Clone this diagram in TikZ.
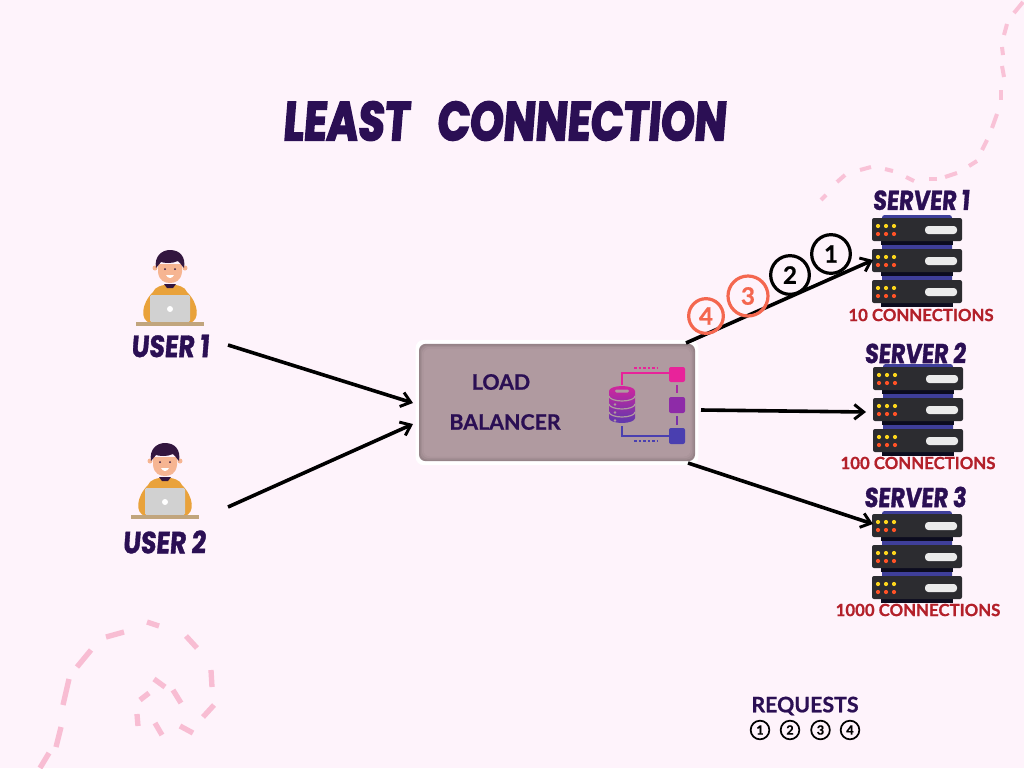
\documentclass[tikz,border=0pt]{standalone}
\usepackage{fontspec}
\setmainfont{Lato}[BoldFeatures={FakeBold=.8}]
\newfontfamily\inkfont[BoldFeatures={FakeBold=3,FakeSlant=0.08,FakeStretch=0.78}]{Poppins}
\newfontfamily\labfont[BoldFeatures={FakeBold=1.2,FakeSlant=0.08,FakeStretch=0.82}]{Poppins}
\usetikzlibrary{arrows.meta}
\definecolor{pagebg}{HTML}{FEF3FB}
\definecolor{ink}{HTML}{2B0F54}
\definecolor{conred}{HTML}{B3202A}
\definecolor{reqorange}{HTML}{F4674F}
\definecolor{dashpink}{HTML}{F8BDD3}
\definecolor{lbfill}{HTML}{B09AA0}
\definecolor{hood}{HTML}{E9A23B}
\definecolor{skin}{HTML}{F6B592}
\definecolor{hair}{HTML}{33163F}
\definecolor{rackblue}{HTML}{3F3F9A}
\definecolor{rackdark}{HTML}{2C2C30}
\definecolor{iconpink}{HTML}{E8239A}
\definecolor{iconpurple}{HTML}{8E2BA8}
\definecolor{iconblue}{HTML}{4A3FB0}
\tikzset{
  arr/.style={line width=2.7pt,-{Straight Barb[length=7pt,width=11pt,line width=2.2pt]}},
  title/.style={inner sep=0pt,text=ink,font=\inkfont\bfseries\fontsize{41}{41}\selectfont},
  who/.style={inner sep=0pt,text=ink,font=\labfont\bfseries\fontsize{#1}{#1}\selectfont},
  conn/.style={inner sep=0pt,text=conred,font=\bfseries\fontsize{12.6}{12.6}\selectfont},
  lbl/.style={inner sep=0pt,text=ink,font=\bfseries\fontsize{16}{16}\selectfont},
  req/.style={circle,draw=#1,text=#1,line width=2.4pt,inner sep=0pt,minimum size=29pt,font=\bfseries\fontsize{18}{18}\selectfont},
  key/.style={circle,draw=black,text=black,line width=1.3pt,inner sep=0pt,minimum size=14pt,font=\bfseries\fontsize{9.5}{9.5}\selectfont},
  dsh/.style={dashpink,line width=3pt}
}
\newcommand{\laptopuser}[2]{
\begin{scope}[shift={(#1,#2)}]
\fill[hood] (-20,53) .. controls (-30,50) and (-29,34) .. (-17,22) .. controls (-14,12) and (14,12) .. (17,22) .. controls (29,34) and (30,50) .. (20,53) -- cycle;
\fill[hair] (-6,14) -- (6,14) -- (3,18) -- (-3,18) -- cycle;
\fill[skin] (-15,-2) circle (2.5) (15,-2) circle (2.5);
\fill[skin] (-12,-6) -- (12,-6) -- (12,2) .. controls (11,11) and (5,13) .. (0,13) .. controls (-5,13) and (-11,11) .. (-12,2) -- cycle;
\fill[hair] (-14,-2) .. controls (-16,-14) and (-8,-20) .. (0,-20) .. controls (10,-20) and (16,-13) .. (14,-2) .. controls (11,-5) and (10,-8) .. (8,-9) .. controls (2,-6) and (-6,-7) .. (-9,-8) .. controls (-11,-6) and (-12,-4) .. (-14,-2) -- cycle;
\fill[hair] (-5,-1) circle (1) (5,-1) circle (1);
\fill[white] (-4,5) .. controls (-2,9) and (2,9) .. (4,5) -- cycle;
\fill[rounded corners=1pt,black!18!white] (-20,25) rectangle (20,52);
\fill[white] (0,39) circle (3);
\fill[hood!65!black!60!white] (-34,52) rectangle (34,56);
\end{scope}
}
\newcommand{\serverrack}[2]{
\begin{scope}[shift={(#1,#2)}]
\fill[rounded corners=2pt,rackblue] (-35,-44) rectangle (35,46);
\foreach \yy in {0,31,62}{
\fill[black!80!rackblue] (-36,-42+\yy+18) rectangle (36,-42+\yy+28);
\fill[rounded corners=1.5pt,rackdark] (-45,-41+\yy) rectangle (45,-41+\yy+23);
\foreach \xx in {-39,-31,-23}{
\fill[yellow!70!orange!90!white] (\xx,-33+\yy) circle (2.1);
\fill[red!60!orange!85!white] (\xx,-25+\yy) circle (2.1);
}
\fill[rounded corners=2.5pt,black!8!white] (8,-33+\yy) rectangle (40,-25+\yy);
}
\end{scope}
}
\begin{document}
\begin{tikzpicture}[x=.75pt,y=-.75pt]
\useasboundingbox[fill=pagebg] (0,0) rectangle (1024,768);
\foreach \ax/\ay/\bx/\by in {1023/2/1014/13,1007/24/1004/35,1002/47/1003/55,1002/66/1004/77,1001/90/1001/100,997/114/992/128,987/140/982/150,977/161/969/166,957/173/945/177,937/179/929/179,914/181/906/177,893/171/885/169,871/167/860/170,845/175/837/182,826/195/821/200}
  \draw[dsh,dashpink!90!pagebg] (\ax,\ay) -- (\bx,\by);
\foreach \ax/\ay/\bx/\by in {49/753/40/768,61/727/56/747,69/679/63/705,91/650/77/667,124/632/106/637,159/626/147/622,197/648/186/636,211/670/212/687,214/705/203/717,193/733/180/726,162/735/155/723,138/726/137/714,140/700/149/693,165/687/154/679,181/703/173/690}
  \draw[dsh,line width=4pt] (\ax,\ay) -- (\bx,\by);
\node[title] (headline) at (504,121) {LEAST\hspace{14pt} CONNECTION};
\laptopuser{170}{270}
\laptopuser{165}{463}
\node[who=23] (user1) at (170,346) {USER 1};
\node[who=23] (user2) at (164,542) {USER 2};
\node[fill=white,rounded corners=6pt,minimum width=212pt,minimum height=94pt,inner sep=0pt] (lbglow) at (557,402.5) {};
\node[fill=lbfill!85!black,rounded corners=5pt,minimum width=207pt,minimum height=88pt,inner sep=0pt] (lb) at (557,402.5) {};
\foreach \gg/\mix in {1.5/92,3/97,4.5/100}
  \fill[lbfill!\mix!black,rounded corners=5pt] (419+\gg,344+\gg) rectangle (695-\gg,461-\gg);
\node[lbl] (lbtop) at (501,382) {LOAD};
\node[lbl] (lbbot) at (505,422) {BALANCER};
% icon in the balancer
\draw[line width=1.5pt,iconpink] (622,385) -- (622,373) -- (669,373);
\draw[line width=1.5pt,iconblue] (622,426) -- (622,436) -- (669,436);
\draw[line width=1.6pt,dash pattern=on 2pt off 1.4pt,iconpink] (634,368) -- (658,368);
\draw[line width=1.6pt,dash pattern=on 2pt off 1.4pt,iconblue] (634,441) -- (658,441);
\draw[line width=1.5pt,iconpurple!70!iconpink] (677,385) -- (677,393);
\draw[line width=1.5pt,iconpurple!70!iconblue] (677,416) -- (677,425);
\fill[rounded corners=1.5pt,iconpink] (669,367) rectangle (685,382);
\fill[rounded corners=1.5pt,iconpurple] (669,397) rectangle (685,413);
\fill[rounded corners=1.5pt,iconblue] (669,428) rectangle (685,444);
\shade[top color=iconpink!75!iconpurple,bottom color=iconblue!70!iconpurple] (609,391) -- (609,418) arc[start angle=180,end angle=0,x radius=13,y radius=5] -- (635,391) arc[start angle=360,end angle=180,x radius=13,y radius=5] -- cycle;
\foreach \yy in {396,404,412}
  \draw[lbfill,line width=.9pt] (609,\yy) arc[start angle=180,end angle=0,x radius=13,y radius=5];
\fill[lbfill,rounded corners=1pt] (615,389.5) rectangle (629,392.5);
\fill[lbfill] (615,404.5) circle (1.3) (615,412.5) circle (1.3) (615,420.5) circle (1.3);
\serverrack{917}{259}
\serverrack{918}{408}
\serverrack{917}{555}
\node[who=20.5] (srv1) at (921,200) {SERVER 1};
\node[who=20.5] (srv2) at (915,353) {SERVER 2};
\node[who=20.5] (srv3) at (915,497) {SERVER 3};
\node[conn] (con1) at (921,315) {10 CONNECTIONS};
\node[conn] (con2) at (918,463) {100 CONNECTIONS};
\node[conn] (con3) at (918,610) {1000 CONNECTIONS};
\coordinate (u1) at (228,345);
\coordinate (u2) at (228,507);
\coordinate (in1) at (413,403);
\coordinate (in2) at (413,424);
\coordinate (out1) at (686,343);
\coordinate (out2) at (701,410);
\coordinate (out3) at (688,463);
\coordinate (s1) at (873,260);
\coordinate (s2) at (866,412);
\coordinate (s3) at (873,524);
\draw[arr] (u1) -- (in1);
\draw[arr] (u2) -- (in2);
\draw[arr] (out1) -- (s1);
\draw[arr] (out2) -- (s2);
\draw[arr] (out3) -- (s3);
\node[req=black] (r1) at (831,254) {1};
\node[req=black] (r2) at (790,275) {2};
\node[req=reqorange,minimum size=30pt] (r3) at (748,296) {3};
\node[req=reqorange,minimum size=26pt] (r4) at (706,316) {4};
\node[lbl] (keyhead) at (805,706) {REQUESTS};
\node[key] (k1) at (760,730) {1};
\node[key] (k2) at (790,730) {2};
\node[key] (k3) at (820.5,730) {3};
\node[key] (k4) at (850,730) {4};
\end{tikzpicture}
\end{document}
